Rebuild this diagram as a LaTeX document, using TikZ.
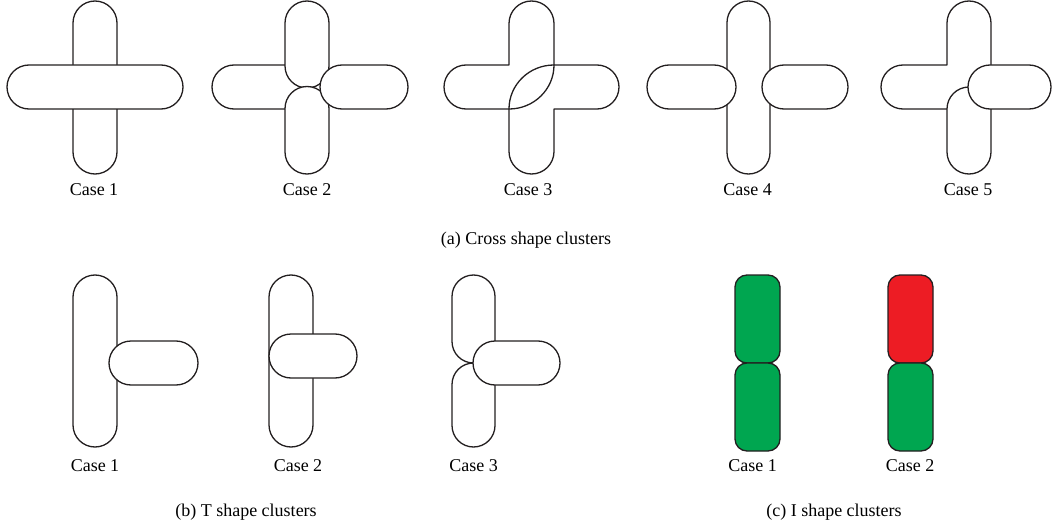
\documentclass[tikz,border=0pt]{standalone}
\usepackage{fontspec}
\setmainfont{Liberation Serif}
\definecolor{ink}{HTML}{231F20}
\definecolor{igreen}{HTML}{00A650}
\definecolor{ired}{HTML}{ED1C24}
\begin{document}
\begin{tikzpicture}[x=1pt,y=1pt,
  outl/.style={draw=ink,line width=1.3pt,line join=round},
  capsH/.style={outl,fill=white,rounded corners=22pt},
  capsV/.style={outl,fill=white,rounded corners=22pt},
  capsN/.style={outl,fill=white,rounded corners=21.5pt},
  ibox/.style={outl,rounded corners=12pt},
  lbl/.style={anchor=base,inner sep=0pt,font=\fontsize{18}{20}\selectfont},
]
\useasboundingbox (0,0) rectangle (1053,-527);

% ---------------- (a) Cross shape clusters ----------------
% Case 1
\draw[capsV] (73,-1) rectangle (117,-174);
\draw[capsH] (7,-65) rectangle (183,-109);
\node[lbl] (a1) at (94,-195) {Case 1};

% Case 2
\draw[outl] (285,-65) -- (234,-65) arc[start angle=90,end angle=270,radius=22] -- (285,-109);
\draw[capsV] (285,-1) rectangle (329,-88);
\draw[capsV] (285,-86.5) rectangle (329,-174);
\draw[capsH] (320,-65) rectangle (408,-109);
\node[lbl] (a2) at (307,-195) {Case 2};

% Case 3
\draw[outl] (509,-65) -- (509,-23.5) arc[start angle=180,end angle=0,radius=22.5]
  -- (554,-65) -- (597,-65) arc[start angle=90,end angle=-90,radius=22]
  -- (554,-109) -- (554,-151.5) arc[start angle=0,end angle=-180,radius=22.5]
  -- (509,-109) -- (466,-109) arc[start angle=270,end angle=90,radius=22] -- cycle;
\draw[outl] (554,-65) arc[start angle=90,end angle=180,x radius=45,y radius=44];
\draw[outl] (554,-65) arc[start angle=0,end angle=-90,x radius=45,y radius=44];
\node[lbl] (a3) at (528,-195) {Case 3};

% Case 4
\draw[capsN] (727,-1) rectangle (770,-174);
\draw[capsH] (647,-65) rectangle (736,-109);
\draw[capsH] (762,-65) rectangle (848,-109);
\node[lbl] (a4) at (747.5,-195) {Case 4};

% Case 5
\draw[outl] (991,-65) -- (991,-23) arc[start angle=0,end angle=180,radius=22]
  -- (947,-65) -- (903,-65) arc[start angle=90,end angle=270,radius=22] -- (947,-109);
\draw[capsV] (947,-87) rectangle (991,-174);
\draw[capsH] (968,-65) rectangle (1051,-109);
\node[lbl] (a5) at (968,-195) {Case 5};

\node[lbl] (capa) at (526,-244) {(a) Cross shape clusters};

% ---------------- (b) T shape clusters ----------------
% Case 1
\draw[capsV] (73,-275) rectangle (117,-447);
\draw[capsH] (109,-341) rectangle (198,-385);
\node[lbl] (b1) at (95,-471) {Case 1};

% Case 2
\draw[capsV] (269,-275) rectangle (313,-447);
\draw[capsH] (269,-334) rectangle (357,-378);
\node[lbl] (b2) at (298,-471) {Case 2};

% Case 3
\draw[capsN] (452,-275) rectangle (495,-363);
\draw[capsN] (452,-363) rectangle (495,-447);
\draw[capsH] (473,-341) rectangle (560,-385);
\node[lbl] (b3) at (473.5,-471) {Case 3};

\node[lbl] (capb) at (246,-516) {(b) T shape clusters};

% ---------------- (c) I shape clusters ----------------
\draw[ibox,fill=igreen] (735,-275) rectangle (780,-363);
\draw[ibox,fill=igreen] (735,-363) rectangle (780,-451);
\node[lbl] (c1) at (752.5,-471) {Case 1};

\draw[ibox,fill=ired] (888,-275) rectangle (933,-363);
\draw[ibox,fill=igreen] (888,-363) rectangle (933,-451);
\node[lbl] (c2) at (910,-471) {Case 2};

\node[lbl] (capc) at (834,-516) {(c) I shape clusters};
\end{tikzpicture}
\end{document}
